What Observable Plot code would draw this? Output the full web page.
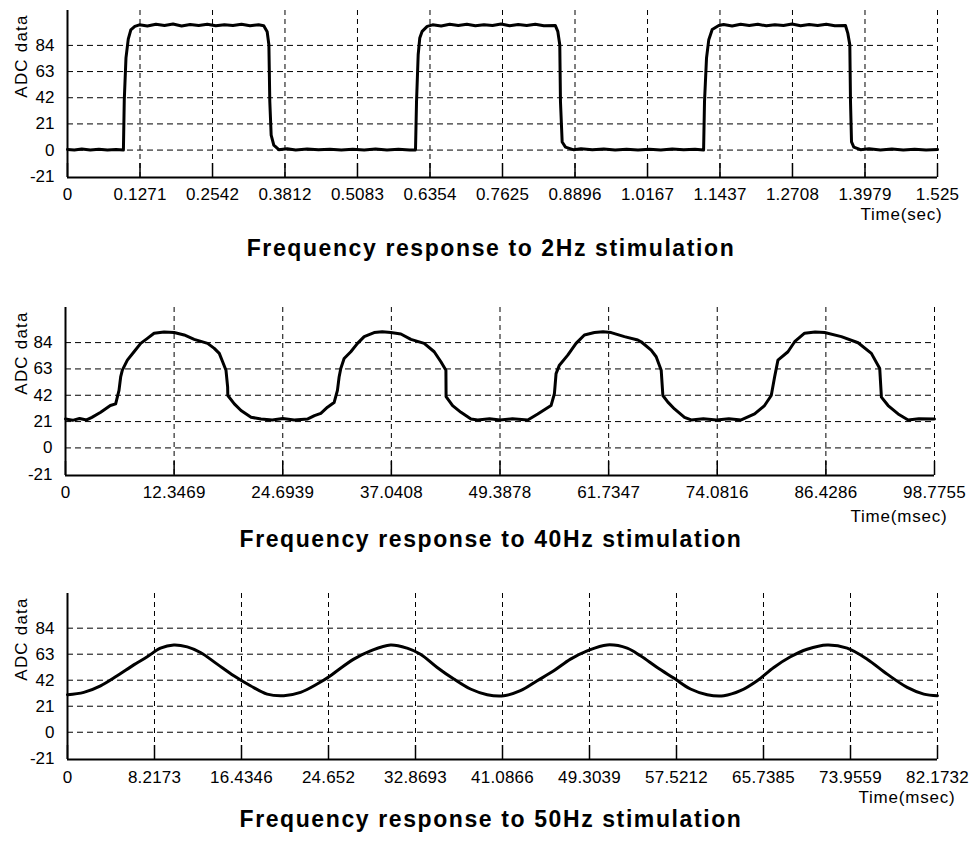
<!DOCTYPE html>
<html>
<head>
<meta charset="utf-8">
<script src="https://cdn.jsdelivr.net/npm/d3@7"></script>
<script src="https://cdn.jsdelivr.net/npm/@observablehq/plot@0.6"></script>
<style>
  html, body { margin: 0; padding: 0; background: #fff; }
  #page { position: relative; width: 971px; height: 841px; overflow: hidden; }
  .panel { position: absolute; left: 0; }
  .title {
    position: absolute; left: 0; width: 971px; box-sizing: border-box; padding-left: 11px;
    text-align: center; font: bold 23px "Liberation Sans", Arial, sans-serif;
    letter-spacing: 1.6px; line-height: 30px; color: #000;
  }
  .ylab {
    position: absolute; left: 21px; white-space: nowrap;
    font: 17px "Liberation Sans", Arial, sans-serif; letter-spacing: 1.2px; line-height: 17px; color: #000;
    transform: translate(-50%, -50%) rotate(-90deg);
  }
</style>
</head>
<body>
<div id="page"></div>
<script>
// ADC readings (time, value) for each stimulation frequency
const resp2Hz = [
  [0, 0.5], [0.012, 0], [0.025, 0.8], [0.04, 0], [0.055, 0.6], [0.07, 0], [0.085, 0.5], [0.098, 0],
  [0.0995, 40], [0.1025, 74], [0.1065, 89], [0.111, 96.5], [0.118, 99.3], [0.126, 100.5],
  [0.14, 99.5], [0.155, 101], [0.17, 100], [0.185, 101.2], [0.2, 99.6], [0.215, 100.8], [0.23, 100],
  [0.245, 101], [0.26, 99.7], [0.275, 100.6], [0.29, 100], [0.305, 101], [0.32, 99.8], [0.335, 100.5], [0.344, 99.8],
  [0.35, 95], [0.353, 84.5], [0.3546, 39], [0.357, 12], [0.3616, 4], [0.3704, 0.3],
  [0.385, 1], [0.4, 0], [0.42, 0.8], [0.44, 0.2], [0.46, 0.7], [0.48, 0], [0.5, 0.6], [0.52, 0],
  [0.54, 0.8], [0.56, 0.1], [0.58, 0.6], [0.6, 0], [0.61, 0],
  [0.6118, 39], [0.6147, 76.5], [0.6175, 90], [0.6217, 95.3], [0.6305, 99.3], [0.64, 100.5],
  [0.655, 99.6], [0.67, 101], [0.685, 100], [0.7, 100.9], [0.715, 99.7], [0.73, 100.6], [0.745, 100],
  [0.76, 101.1], [0.775, 99.8], [0.79, 100.7], [0.805, 100], [0.82, 100.9], [0.835, 99.7], [0.855, 100],
  [0.8594, 95.3], [0.8629, 84.5], [0.8641, 39], [0.8671, 6.5], [0.8729, 2.4], [0.8875, 0.2],
  [0.9, 1], [0.92, 0.2], [0.94, 0.8], [0.96, 0], [0.98, 0.6], [1.0, 0.1], [1.02, 0.7], [1.04, 0],
  [1.06, 0.8], [1.08, 0.2], [1.1, 0.6], [1.115, 0],
  [1.1166, 39], [1.1201, 73.8], [1.1241, 88.6], [1.1301, 96.7], [1.1416, 99.9], [1.15, 100.8],
  [1.165, 99.6], [1.18, 101], [1.195, 100], [1.21, 100.9], [1.225, 99.7], [1.24, 100.6], [1.255, 100],
  [1.27, 101.1], [1.285, 99.8], [1.3, 100.7], [1.315, 100], [1.33, 100.9], [1.345, 99.7], [1.3637, 100],
  [1.3677, 93.9], [1.3713, 84.5], [1.3725, 39], [1.3743, 6.5], [1.3783, 2.4], [1.39, 0.3],
  [1.405, 1], [1.425, 0.1], [1.445, 0.8], [1.465, 0], [1.485, 0.7], [1.505, 0.1], [1.525, 0.4]
];

const resp40Hz = [
  [0, 23.1], [0.8, 22], [1.6, 23.5], [2.4, 22.3], [3.0, 24.4], [4.0, 28.4], [5.1, 33.8], [5.7, 35.1],
  [6.08, 45.9], [6.27, 56.6], [6.46, 62], [7.03, 70], [7.79, 76.7], [8.55, 83.4], [9.31, 87.4],
  [10.07, 91.5], [11.2, 92.5], [12.35, 92], [13.49, 90.1], [14.63, 86.6], [16.15, 83.4], [16.91, 79.4],
  [17.48, 75.4], [17.86, 68.7], [18.24, 62], [18.43, 48.5], [18.45, 41.8], [19.19, 35.1], [19.95, 29.8],
  [21.09, 24.4], [22.22, 23.1], [23.5, 22.3], [24.7, 23.5], [26, 22.3], [27.54, 23.1], [28.3, 25.7],
  [29.02, 27.6], [29.78, 32.5], [30.53, 36.2], [30.91, 45.9], [31.1, 56.6], [31.29, 63.3], [31.67, 71.3],
  [32.43, 76.7], [33.19, 83.4], [33.95, 88.8], [35.08, 92], [36.0, 92.6], [36.98, 92], [38.12, 90.9],
  [39.26, 86.6], [40.77, 83.4], [41.91, 76.7], [42.67, 68.7], [43.24, 62], [43.26, 41], [44.0, 33.8],
  [44.95, 28.4], [46.09, 23.1], [46.85, 22.3], [48.2, 23.2], [49.4, 22.3], [50.8, 23.2], [52.54, 22.3],
  [53.68, 27.1], [55.19, 33.8], [55.57, 43.2], [55.76, 59.3], [56.14, 66], [57.09, 74], [58.03, 83.4],
  [58.98, 90.1], [60.12, 92], [61.1, 92.6], [62.02, 92], [63.53, 88.8], [65.05, 86.1], [65.43, 84.7],
  [66.57, 78], [67.14, 72.7], [67.71, 62], [67.9, 41.8], [68.47, 36.5], [69.22, 31.1], [70.36, 24.4],
  [71.12, 22.3], [72.5, 23.2], [74, 22.3], [75.4, 23.2], [76.81, 22.3], [78.33, 27.1], [79.46, 33.8],
  [80.22, 41.8], [80.6, 56.6], [80.98, 70], [82.12, 76.7], [82.88, 84.7], [84.01, 91.5], [85.2, 92.5],
  [86.29, 92], [88.19, 88.8], [90.09, 83.9], [91.6, 75.4], [92.55, 63.3], [92.74, 40.5], [93.5, 33.8],
  [94.64, 27.1], [95.78, 22.3], [97, 23.3], [98.7755, 23.1]
];

const resp50Hz = [
  [0, 30.3], [1.54, 32.2], [3.12, 37.5], [4.69, 45.6], [6.26, 54.4], [7.53, 60.9], [8.78, 67.9],
  [10.04, 70.5], [11.31, 68.9], [12.56, 64.4], [14.14, 55], [15.71, 45.6], [17.28, 37.5], [18.86, 30.8],
  [20.43, 29.5], [22.01, 32.2], [23.58, 38.9], [24.84, 45.6], [25.47, 49.6], [27.04, 59], [28.62, 65.7],
  [30.51, 70.5], [32.08, 67.9], [33.34, 63], [34.92, 52.3], [36.49, 42.9], [38.06, 34.9], [39.64, 30.3],
  [41.21, 29.5], [42.78, 33.5], [44.36, 41.6], [45.93, 49.6], [47.51, 59], [49.08, 65.7], [50.97, 70.5],
  [52.86, 67.9], [54.12, 61.7], [55.7, 52.3], [57.26, 43.7], [58.84, 34.9], [60.42, 30.3], [61.99, 29.5],
  [63.56, 33.5], [65.14, 41.6], [66.71, 52.3], [68.29, 60.9], [69.86, 67], [71.75, 70.5], [73.64, 67.9],
  [75.53, 59], [77.42, 46.9], [79.31, 36.2], [80.88, 30.8], [82.17, 29.5]
];

// Tick labels
const ticks2Hz = [0, 0.1271, 0.2542, 0.3812, 0.5083, 0.6354, 0.7625, 0.8896, 1.0167, 1.1437, 1.2708, 1.3979, 1.525];
const ticks40Hz = [0, 12.3469, 24.6939, 37.0408, 49.3878, 61.7347, 74.0816, 86.4286, 98.7755];
const ticks50Hz = [0, 8.2173, 16.4346, 24.652, 32.8693, 41.0866, 49.3039, 57.5212, 65.7385, 73.9559, 82.1732];
const adcTicks = [-21, 0, 21, 42, 63, 84];
const adcGrid = [0, 21, 42, 63, 84];
const adcDomain = [-22, 112];

const titles = [
  "Frequency response to 2Hz stimulation",
  "Frequency response to 40Hz stimulation",
  "Frequency response to 50Hz stimulation"
];
const timeLabels = ["Time(sec)", "Time(msec)", "Time(msec)"];
const yLabel = "ADC data";

const FONT = "'Liberation Sans', Arial, sans-serif";

function panel({data, xTicks, xLabel, curve, height, marginTop, marginBottom, marginLeft, marginRight, labelDx, labelDy, tickPadding}) {
  const frameH = height - marginTop - marginBottom;
  const rows = data.map(([t, v]) => ({t, v}));
  const chart = Plot.plot({
    width: 971, height, marginTop, marginBottom, marginLeft, marginRight,
    style: {fontFamily: FONT, fontSize: "17px", color: "#000", background: "#fff", overflow: "visible"},
    x: {domain: [0, xTicks[xTicks.length - 1]]},
    y: {domain: adcDomain},
    marks: [
      Plot.ruleY(adcGrid, {y: d => d, stroke: "#000", strokeWidth: 1, strokeDasharray: "6,4"}),
      Plot.ruleX(xTicks, {x: d => d, stroke: "#000", strokeWidth: 1, strokeDasharray: "5,4"}),
      Plot.tickX(xTicks, {x: d => d, insetTop: frameH - 14, stroke: "#000", strokeWidth: 1.5}),
      Plot.ruleX([0], {stroke: "#000", strokeWidth: 2}),
      Plot.ruleY([adcDomain[0]], {stroke: "#000", strokeWidth: 2}),
      Plot.axisX(xTicks, {tickSize: 0, tickPadding, tickFormat: d => String(d), label: null}),
      Plot.axisY(adcTicks, {tickSize: 0, tickPadding: 13, tickFormat: d => String(d), label: null}),
      Plot.line(rows, {x: "t", y: "v", stroke: "#000", strokeWidth: 3, strokeLinejoin: "round", curve}),
      Plot.text([xLabel], {text: d => d, frameAnchor: "bottom-right", textAnchor: "end", dx: labelDx, dy: labelDy, className: "xlab"})
    ]
  });
  chart.querySelectorAll(".xlab text").forEach(t => t.style.letterSpacing = "0.8px");
  chart.querySelectorAll("g[aria-label='x-axis tick label'] text").forEach(t => t.style.letterSpacing = "0.2px");
  return chart;
}

const page = document.getElementById("page");
const layout = [
  {data: resp2Hz, xTicks: ticks2Hz, curve: "linear", top: 0, height: 235, marginTop: 10, marginBottom: 58,
   marginLeft: 67, marginRight: 34, labelDx: 5, labelDy: 42.5, tickPadding: 10, titleTop: 233},
  {data: resp40Hz, xTicks: ticks40Hz, curve: "linear", top: 270, height: 265, marginTop: 37, marginBottom: 60,
   marginLeft: 65, marginRight: 37, labelDx: 13, labelDy: 46, tickPadding: 10.5, titleTop: 523.5},
  {data: resp50Hz, xTicks: ticks50Hz, curve: "catmull-rom", top: 560, height: 257, marginTop: 33, marginBottom: 58,
   marginLeft: 67, marginRight: 34, labelDx: 18, labelDy: 43.5, tickPadding: 11, titleTop: 804}
];

layout.forEach((p, i) => {
  const svg = panel({...p, xLabel: timeLabels[i]});
  svg.classList.add("panel");
  svg.style.top = p.top + "px";
  page.appendChild(svg);

  // rotated value-axis label near the top of each frame
  const lab = document.createElement("div");
  lab.className = "ylab";
  lab.style.top = (p.top + p.marginTop + 46) + "px";
  lab.textContent = yLabel;
  page.appendChild(lab);
});
layout.forEach((p, i) => {
  const div = document.createElement("div");
  div.className = "title";
  div.style.top = p.titleTop + "px";
  div.textContent = titles[i];
  page.appendChild(div);
});
</script>
</body>
</html>
